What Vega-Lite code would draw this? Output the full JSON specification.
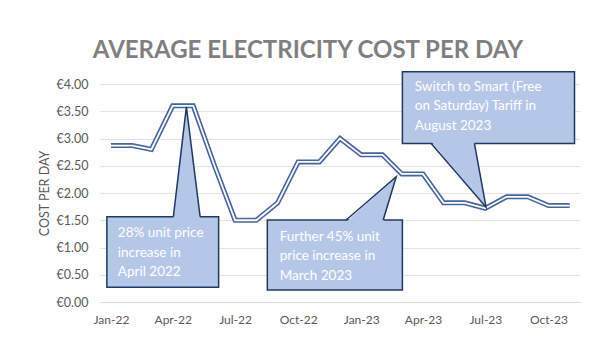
{
  "$schema": "https://vega.github.io/schema/vega-lite/v6.json",
  "width": 480,
  "height": 218,
  "autosize": {"type": "none"},
  "padding": {"left": 100, "top": 84, "right": 34, "bottom": 53},
  "background": "#ffffff",
  "config": {
    "view": {"stroke": null},
    "font": "Lato",
    "axisY": {"labelOverlap": false, "gridColor": "#e3e3e3"}
  },
  "title": {
    "text": "AVERAGE ELECTRICITY COST PER DAY",
    "fontSize": 24,
    "fontWeight": "bold",
    "color": "#7f7f7f",
    "anchor": "middle",
    "dx": -32,
    "baseline": "alphabetic",
    "offset": -11
  },
  "datasets": {
    "cost": [
      {"month": "2022-01-01", "cost": 2.87},
      {"month": "2022-02-01", "cost": 2.87},
      {"month": "2022-03-01", "cost": 2.8},
      {"month": "2022-04-01", "cost": 3.6},
      {"month": "2022-05-01", "cost": 3.6},
      {"month": "2022-06-01", "cost": 2.5},
      {"month": "2022-07-01", "cost": 1.5},
      {"month": "2022-08-01", "cost": 1.5},
      {"month": "2022-09-01", "cost": 1.82},
      {"month": "2022-10-01", "cost": 2.57},
      {"month": "2022-11-01", "cost": 2.57},
      {"month": "2022-12-01", "cost": 3.0},
      {"month": "2023-01-01", "cost": 2.7},
      {"month": "2023-02-01", "cost": 2.7},
      {"month": "2023-03-01", "cost": 2.35},
      {"month": "2023-04-01", "cost": 2.35},
      {"month": "2023-05-01", "cost": 1.82},
      {"month": "2023-06-01", "cost": 1.82},
      {"month": "2023-07-01", "cost": 1.72},
      {"month": "2023-08-01", "cost": 1.93},
      {"month": "2023-09-01", "cost": 1.93},
      {"month": "2023-10-01", "cost": 1.77},
      {"month": "2023-11-01", "cost": 1.77}
    ],
    "boxes": [
      {"callout": "a", "x1": "2021-12-26", "x2": "2022-06-07", "y1": 1.565, "y2": 0.27},
      {"callout": "b", "x1": "2022-08-17", "x2": "2023-03-02", "y1": 1.505, "y2": 0.22},
      {"callout": "c", "x1": "2023-03-02", "x2": "2023-11-08", "y1": 4.226, "y2": 2.91}
    ],
    "pointers": [
      {"callout": "a", "x": "2022-04-02", "y": 1.53, "y2": 1.53},
      {"callout": "a", "x": "2022-04-21", "y": 3.58, "y2": 1.53},
      {"callout": "a", "x": "2022-05-11", "y": 1.53, "y2": 1.53},
      {"callout": "b", "x": "2022-12-10", "y": 1.47, "y2": 1.47},
      {"callout": "b", "x": "2023-02-02", "y": 2.078, "y2": 1.47},
      {"callout": "b", "x": "2023-02-21", "y": 2.3, "y2": 2.3},
      {"callout": "c", "x": "2023-04-13", "y": 2.945, "y2": 2.945},
      {"callout": "c", "x": "2023-06-15", "y": 2.0, "y2": 2.945},
      {"callout": "c", "x": "2023-07-02", "y": 1.74, "y2": 1.74}
    ],
    "edges": [
      {"callout": "a", "k": 1, "x": "2022-04-02", "y": 1.565},
      {"callout": "a", "k": 2, "x": "2022-04-21", "y": 3.58},
      {"callout": "a", "k": 3, "x": "2022-05-11", "y": 1.565},
      {"callout": "b", "k": 1, "x": "2022-12-10", "y": 1.505},
      {"callout": "b", "k": 2, "x": "2023-02-21", "y": 2.3},
      {"callout": "b", "k": 3, "x": "2023-02-02", "y": 1.505},
      {"callout": "c", "k": 1, "x": "2023-04-13", "y": 2.91},
      {"callout": "c", "k": 2, "x": "2023-07-02", "y": 1.74},
      {"callout": "c", "k": 3, "x": "2023-06-15", "y": 2.91}
    ],
    "labels": [
      {"callout": "a", "x": "2022-01-11", "y": 1.26, "label": "28% unit price\nincrease in\nApril 2022"},
      {"callout": "b", "x": "2022-09-04", "y": 1.198, "label": "Further 45% unit\nprice increase in\nMarch 2023"},
      {"callout": "c", "x": "2023-03-20", "y": 3.95, "label": "Switch to Smart (Free\non Saturday) Tariff in\nAugust 2023"}
    ]
  },
  "layer": [
    {
      "data": {"name": "cost"},
      "mark": {"type": "line", "color": "#4464a2", "strokeWidth": 5, "strokeJoin": "miter"},
      "encoding": {
        "x": {
          "field": "month",
          "type": "temporal",
          "scale": {
            "type": "utc",
            "domain": [
              {"year": 2021, "month": 12, "date": 16, "utc": true},
              {"year": 2023, "month": 11, "date": 16, "utc": true}
            ]
          },
          "axis": {
            "format": "%b-%y",
            "tickCount": {"interval": "month", "step": 3},
            "grid": false,
            "domain": true,
            "domainColor": "#d9d9d9",
            "ticks": false,
            "tickSize": 0,
            "labelColor": "#595959",
            "labelFontSize": 12,
            "labelPadding": 12,
            "labelOverlap": false,
            "title": null
          }
        },
        "y": {
          "field": "cost",
          "type": "quantitative",
          "scale": {"domain": [0, 4], "nice": false},
          "axis": {"values": [0, 0.5, 1, 1.5, 2, 2.5, 3, 3.5, 4], "grid": true, "gridColor": "#e3e3e3", "domain": false, "ticks": false, "tickSize": 0, "labelExpr": "'€' + format(datum.value, '.2f')", "labelColor": "#595959", "labelFontSize": 12.5, "labelPadding": 12, "labelOverlap": false, "title": "COST PER DAY", "titleColor": "#595959", "titleFontSize": 12.5, "titleFontWeight": "normal", "titlePadding": 5}
        }
      }
    },
    {
      "data": {"name": "cost"},
      "mark": {"type": "line", "color": "#ffffff", "strokeWidth": 1.8, "strokeJoin": "miter"},
      "encoding": {
        "x": {"field": "month", "type": "temporal"},
        "y": {
          "field": "cost",
          "type": "quantitative",
          "axis": {"values": [0, 0.5, 1, 1.5, 2, 2.5, 3, 3.5, 4], "grid": true, "gridColor": "#e3e3e3", "domain": false, "ticks": false, "tickSize": 0, "labelExpr": "'€' + format(datum.value, '.2f')", "labelColor": "#595959", "labelFontSize": 12.5, "labelPadding": 12, "labelOverlap": false, "title": "COST PER DAY", "titleColor": "#595959", "titleFontSize": 12.5, "titleFontWeight": "normal", "titlePadding": 5}
        }
      }
    },
    {
      "data": {"name": "boxes"},
      "mark": {"type": "rect", "fill": "#b4c7e7", "stroke": "#1f3864", "strokeWidth": 1.5},
      "encoding": {
        "x": {"field": "x1", "type": "temporal"},
        "x2": {"field": "x2"},
        "y": {
          "field": "y1",
          "type": "quantitative",
          "axis": {"values": [0, 0.5, 1, 1.5, 2, 2.5, 3, 3.5, 4], "grid": true, "gridColor": "#e3e3e3", "domain": false, "ticks": false, "tickSize": 0, "labelExpr": "'€' + format(datum.value, '.2f')", "labelColor": "#595959", "labelFontSize": 12.5, "labelPadding": 12, "labelOverlap": false, "title": "COST PER DAY", "titleColor": "#595959", "titleFontSize": 12.5, "titleFontWeight": "normal", "titlePadding": 5}
        },
        "y2": {"field": "y2"}
      }
    },
    {
      "data": {"name": "pointers"},
      "mark": {"type": "area", "orient": "vertical", "fill": "#b4c7e7", "opacity": 1},
      "encoding": {
        "x": {"field": "x", "type": "temporal"},
        "y": {
          "field": "y",
          "type": "quantitative",
          "axis": {"values": [0, 0.5, 1, 1.5, 2, 2.5, 3, 3.5, 4], "grid": true, "gridColor": "#e3e3e3", "domain": false, "ticks": false, "tickSize": 0, "labelExpr": "'€' + format(datum.value, '.2f')", "labelColor": "#595959", "labelFontSize": 12.5, "labelPadding": 12, "labelOverlap": false, "title": "COST PER DAY", "titleColor": "#595959", "titleFontSize": 12.5, "titleFontWeight": "normal", "titlePadding": 5}
        },
        "y2": {"field": "y2"},
        "detail": {"field": "callout"}
      }
    },
    {
      "data": {"name": "edges"},
      "mark": {"type": "line", "color": "#1f3864", "strokeWidth": 1.5, "strokeJoin": "miter"},
      "encoding": {
        "x": {"field": "x", "type": "temporal"},
        "y": {
          "field": "y",
          "type": "quantitative",
          "axis": {"values": [0, 0.5, 1, 1.5, 2, 2.5, 3, 3.5, 4], "grid": true, "gridColor": "#e3e3e3", "domain": false, "ticks": false, "tickSize": 0, "labelExpr": "'€' + format(datum.value, '.2f')", "labelColor": "#595959", "labelFontSize": 12.5, "labelPadding": 12, "labelOverlap": false, "title": "COST PER DAY", "titleColor": "#595959", "titleFontSize": 12.5, "titleFontWeight": "normal", "titlePadding": 5}
        },
        "detail": {"field": "callout"},
        "order": {"field": "k"}
      }
    },
    {
      "data": {"name": "labels"},
      "mark": {"type": "text", "align": "left", "baseline": "middle", "lineBreak": "\n", "lineHeight": 19.5, "color": "#ffffff", "fontSize": 13.5},
      "encoding": {
        "x": {"field": "x", "type": "temporal"},
        "y": {
          "field": "y",
          "type": "quantitative",
          "axis": {"values": [0, 0.5, 1, 1.5, 2, 2.5, 3, 3.5, 4], "grid": true, "gridColor": "#e3e3e3", "domain": false, "ticks": false, "tickSize": 0, "labelExpr": "'€' + format(datum.value, '.2f')", "labelColor": "#595959", "labelFontSize": 12.5, "labelPadding": 12, "labelOverlap": false, "title": "COST PER DAY", "titleColor": "#595959", "titleFontSize": 12.5, "titleFontWeight": "normal", "titlePadding": 5}
        },
        "text": {"field": "label"}
      }
    }
  ]
}
